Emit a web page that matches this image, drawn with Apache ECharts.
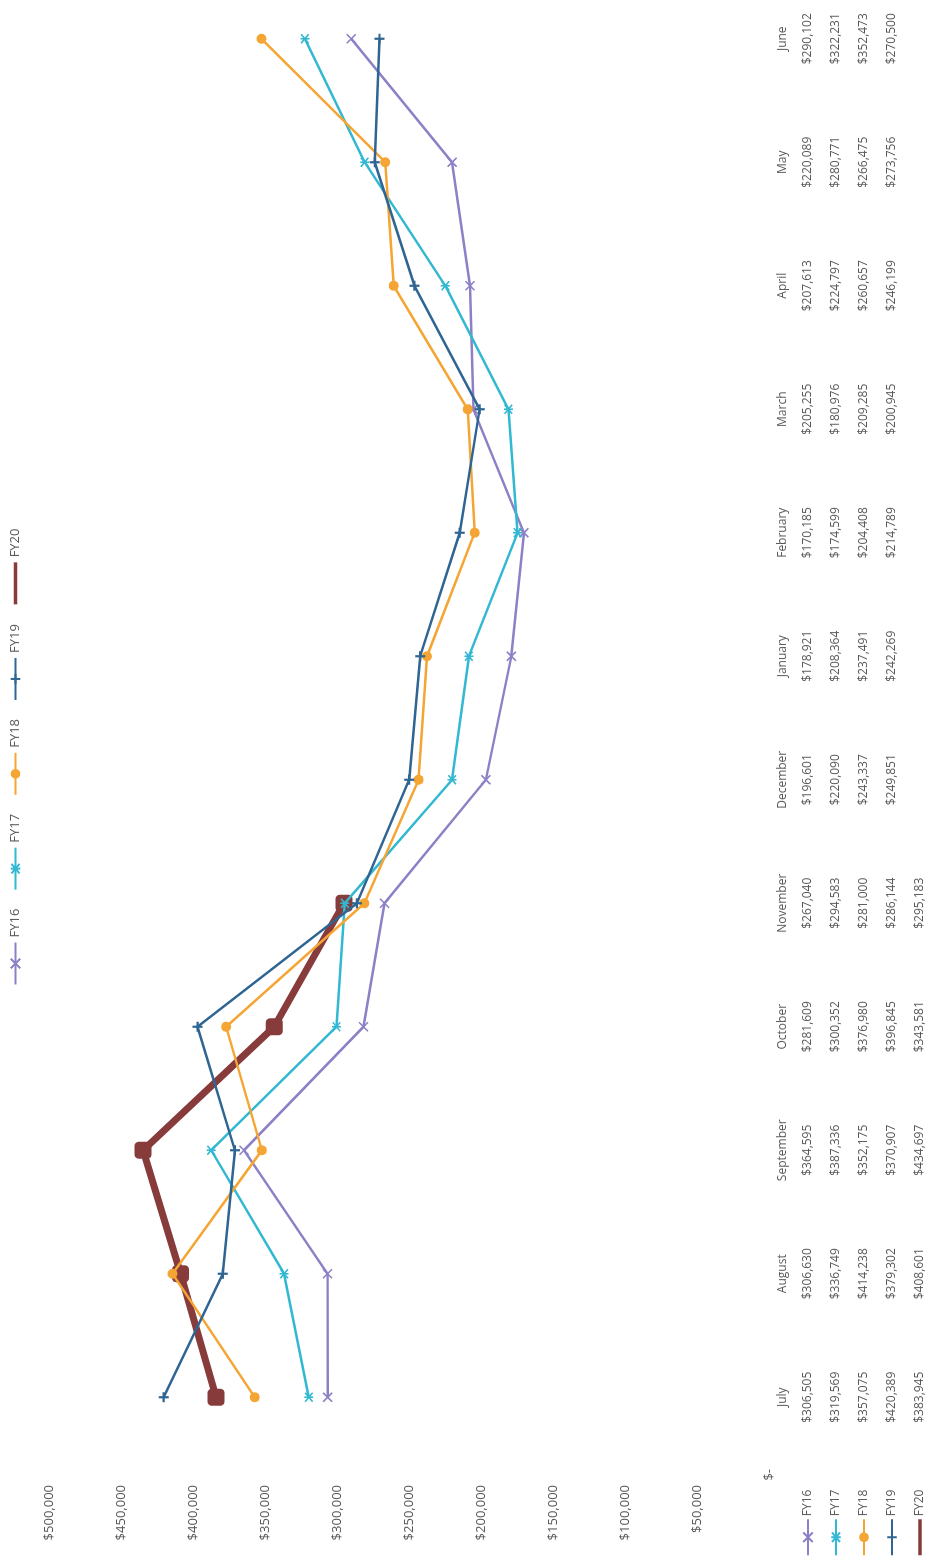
<!DOCTYPE html>
<html>
<head>
<meta charset="utf-8">
<script src="https://cdn.jsdelivr.net/npm/echarts@6/dist/echarts.min.js"></script>
<style>
  html, body { margin: 0; padding: 0; width: 927px; height: 1557px; overflow: hidden; background: #fff; }
  /* The chart is laid out landscape and turned a quarter turn counter-clockwise onto the page */
  #chart { position: absolute; left: 0; top: 0; width: 1600px; height: 927px;
           transform-origin: 0 0; transform: translate(0, 1557px) rotate(-90deg); }
</style>
</head>
<body>
<div id="chart"></div>
<script>
// Monthly totals by fiscal year (July through June)
const months = ['July', 'August', 'September', 'October', 'November', 'December',
                'January', 'February', 'March', 'April', 'May', 'June'];
const fy16 = [306505, 306630, 364595, 281609, 267040, 196601, 178921, 170185, 205255, 207613, 220089, 290102];
const fy17 = [319569, 336749, 387336, 300352, 294583, 220090, 208364, 174599, 180976, 224797, 280771, 322231];
const fy18 = [357075, 414238, 352175, 376980, 281000, 243337, 237491, 204408, 209285, 260657, 266475, 352473];
const fy19 = [420389, 379302, 370907, 396845, 286144, 249851, 242269, 214789, 200945, 246199, 273756, 270500];
const fy20 = [383945, 408601, 434697, 343581, 295183, null, null, null, null, null, null, null];
const seriesNames = ['FY16', 'FY17', 'FY18', 'FY19', 'FY20'];
const seriesData = [fy16, fy17, fy18, fy19, fy20];
const valueTicks = { min: 0, max: 500000, step: 50000 };

const FONT = '"Open Sans", "Noto Sans", sans-serif';
const TEXT = '#595959';
const colors = ['#8E80C6', '#33B8D2', '#F5A533', '#2F6593', '#873B3B'];

const crossPath = 'path://M0,0L10,10M10,0L0,10';
const starPath = 'path://M0,0L10,10M10,0L0,10M5,-1L5,11';
const plusPath = 'path://M5,0L5,10M0,5L10,5';

const styles = [
  { symbol: crossPath, size: 9, width: 2.5, border: 1.6 },
  { symbol: starPath, size: 9, width: 2.5, border: 1.6 },
  { symbol: 'circle', size: 10, width: 2.5, border: 0 },
  { symbol: plusPath, size: 10, width: 2.5, border: 2.2 },
  { symbol: 'roundRect', size: 17, width: 7, border: 0 }
];

function money(v) {
  if (v === null || v === undefined) return '';
  if (v === 0) return '$-';
  return '$' + v.toLocaleString('en-US');
}

const series = seriesNames.map((name, i) => ({
  name: name,
  type: 'line',
  data: seriesData[i],
  symbol: styles[i].symbol,
  symbolSize: styles[i].size,
  showAllSymbol: true,
  connectNulls: false,
  z: i === 4 ? 1 : 2 + i,
  lineStyle: { color: colors[i], width: styles[i].width },
  itemStyle: { color: colors[i], borderColor: colors[i], borderWidth: styles[i].border },
  emphasis: { disabled: true }
}));

// Legend keys: the thick FY20 line is keyed by its line alone, without the square marker
const legendItems = seriesNames.map((name, i) => i === 4
  ? { name: name, itemStyle: { opacity: 0 }, lineStyle: { width: 3.5 } }
  : { name: name });

// Data table under the plot: month header followed by one row per fiscal year
const rich = { m: { fontSize: 12, fontFamily: FONT, color: TEXT, lineHeight: 22, align: 'center' },
               v: { fontSize: 12, fontFamily: FONT, color: TEXT, lineHeight: 28, align: 'center' } };

const chart = echarts.init(document.getElementById('chart'), null, { renderer: 'canvas' });
chart.setOption({
  animation: false,
  backgroundColor: '#ffffff',
  textStyle: { fontFamily: FONT, color: TEXT },
  grid: { left: 98, right: 20, top: 49, bottom: 158, containLabel: false },
  legend: [
    {
      data: legendItems, top: 4, left: 'center', orient: 'horizontal',
      itemWidth: 42, itemHeight: 12, itemGap: 18,
      textStyle: { fontSize: 13, fontFamily: FONT, color: TEXT }
    },
    {
      data: legendItems, top: 802, left: 0, orient: 'vertical', padding: 0,
      itemWidth: 36, itemHeight: 12, itemGap: 16, height: 125,
      textStyle: { fontSize: 12, fontFamily: FONT, color: TEXT, padding: [0, 0, 0, -2] }
    }
  ],
  xAxis: {
    type: 'category',
    data: months,
    boundaryGap: true,
    axisLine: { show: false },
    axisTick: { show: false },
    splitLine: { show: false },
    axisLabel: {
      interval: 0,
      margin: 3,
      formatter: function (value, idx) {
        const lines = ['{m|' + value + '}'];
        seriesData.forEach(d => lines.push('{v|' + (d[idx] === null ? ' ' : money(d[idx])) + '}'));
        return lines.join('\n');
      },
      rich: rich
    }
  },
  yAxis: {
    type: 'value',
    min: valueTicks.min,
    max: valueTicks.max,
    interval: valueTicks.step,
    axisLine: { show: false },
    axisTick: { show: false },
    splitLine: { show: false },
    axisLabel: {
      margin: 26,
      fontSize: 13,
      fontFamily: FONT,
      color: TEXT,
      formatter: v => v === 0 ? '{z|' + money(v) + '}' : money(v),
      rich: { z: { fontSize: 13, fontFamily: FONT, color: TEXT, padding: [0, -16, 0, 0] } }
    }
  },
  series: series
});
</script>
</body>
</html>
